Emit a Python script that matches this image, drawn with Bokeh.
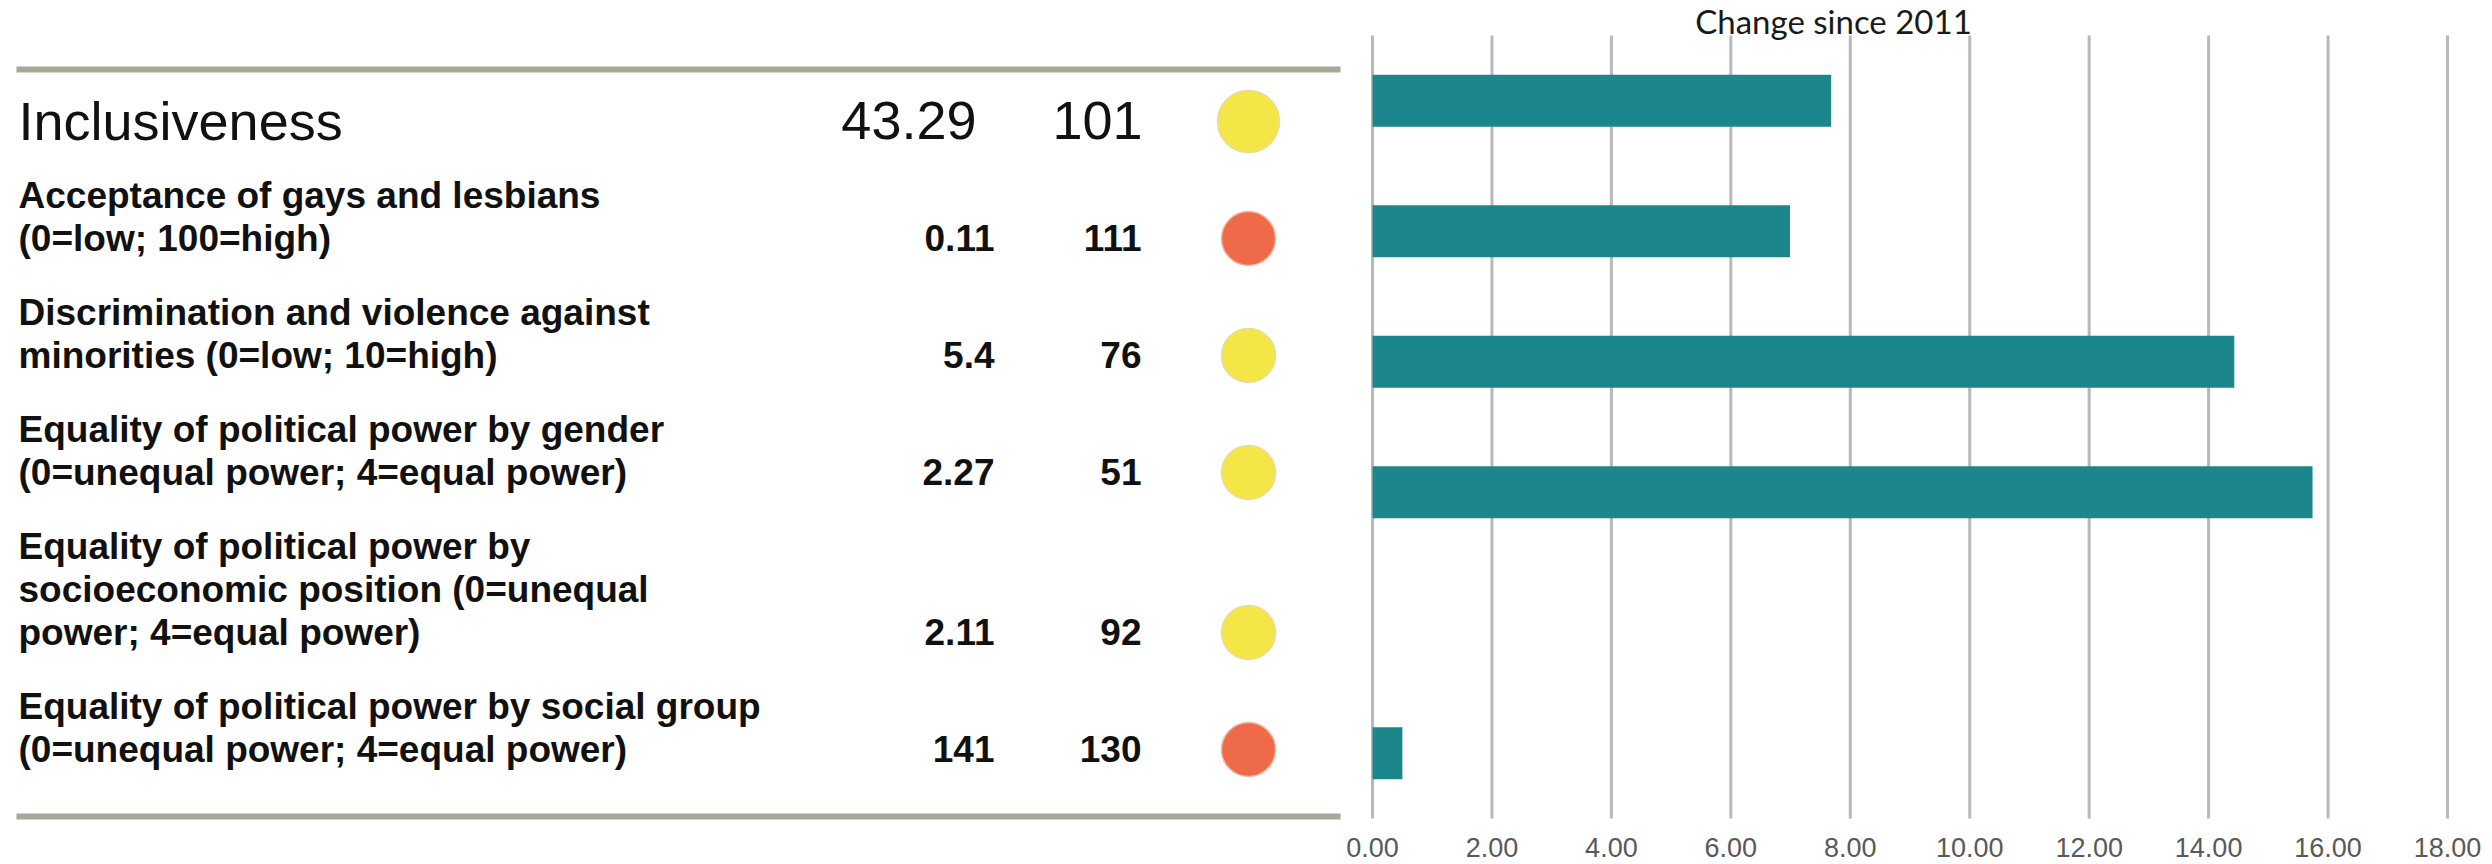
from bokeh.plotting import figure
from bokeh.models import Range1d, LinearAxis, FixedTicker, NumeralTickFormatter, ColumnDataSource
from bokeh.core.properties import value
from bokeh.embed import file_html
from bokeh.resources import INLINE

# ---------------- data ----------------
categories = [
    "Inclusiveness",
    "Acceptance of gays and lesbians (0=low; 100=high)",
    "Discrimination and violence against minorities (0=low; 10=high)",
    "Equality of political power by gender (0=unequal power; 4=equal power)",
    "Equality of political power by socioeconomic position (0=unequal power; 4=equal power)",
    "Equality of political power by social group (0=unequal power; 4=equal power)",
]
label_lines = [
    ["Inclusiveness"],
    ["Acceptance of gays and lesbians", "(0=low; 100=high)"],
    ["Discrimination and violence against", "minorities (0=low; 10=high)"],
    ["Equality of political power by gender", "(0=unequal power; 4=equal power)"],
    ["Equality of political power by", "socioeconomic position (0=unequal", "power; 4=equal power)"],
    ["Equality of political power by social group", "(0=unequal power; 4=equal power)"],
]
scores = ["43.29", "0.11", "5.4", "2.27", "2.11", "141"]
ranks = ["101", "111", "76", "51", "92", "130"]
status = ["yellow", "red", "yellow", "yellow", "yellow", "red"]
change_since_2011 = [7.68, 6.99, 14.43, 15.74, 0.0, 0.50]
x_ticks = [0, 2, 4, 6, 8, 10, 12, 14, 16, 18]
chart_title = "Change since 2011"

# ---------------- layout (page pixels) ----------------
W, H = 2492, 864
LEFT, TOP = 0, 0
RIGHT, BOTTOM = LEFT + W, TOP + H
X0_PX, X18_PX = 1372, 2447          # where 0 and 18 sit
BAND_TOP, BAND_BOT = 35, 818        # category band extent
n = len(categories)
ppu = (X18_PX - X0_PX) / (x_ticks[-1] - x_ticks[0])
ppr = (BAND_BOT - BAND_TOP) / n
SHIFT = 0.31   # em correction so that glyph baselines land where intended

x_range = Range1d(x_ticks[0] - (X0_PX - LEFT) / ppu, x_ticks[-1] + (RIGHT - X18_PX) / ppu)
y_range = Range1d(n - 0.5 + (BOTTOM - BAND_BOT) / ppr, -0.5 - (BAND_TOP - TOP) / ppr)

p = figure(width=W, height=H, output_backend="svg", toolbar_location=None,
           x_axis_type=None, y_axis_type=None,
           x_range=x_range, y_range=y_range,
           min_border=0, outline_line_color=None)
p.extra_x_ranges = {"px": Range1d(LEFT, RIGHT)}
p.extra_y_ranges = {"px": Range1d(BOTTOM, TOP)}
p.xgrid.visible = False
p.ygrid.visible = False

# ---------------- bar chart ----------------
p.segment(x0=x_ticks, y0=-0.5, x1=x_ticks, y1=n - 0.5,
          line_color="#b9b9b9", line_width=3)

bars = ColumnDataSource(dict(y=list(range(n)), right=change_since_2011))
p.hbar(y="y", left=0, right="right", height=0.4, source=bars,
       fill_color="#1b878c", line_color=None)

xaxis = LinearAxis(ticker=FixedTicker(ticks=x_ticks),
                   formatter=NumeralTickFormatter(format="0.00"),
                   fixed_location=n - 0.5,
                   axis_line_color=None, major_tick_line_color=None,
                   minor_tick_line_color=None,
                   major_tick_out=0, major_tick_in=0,
                   major_label_standoff=19,
                   major_label_text_font="Liberation Sans",
                   major_label_text_font_size="27px",
                   major_label_text_line_height=1.0,
                   major_label_text_color="#595959")
p.add_layout(xaxis, "below")

p.text(x=[1833], y=[31 - SHIFT * 33], text=[chart_title], x_range_name="px", y_range_name="px",
       text_align="center", text_baseline="alphabetic", text_line_height=1.0,
       text_font=value("Lato"), text_font_size="33px", text_color="#1a1a1a")

# ---------------- table ----------------
RULE_X0, RULE_X1 = 16, 1340
p.segment(x0=RULE_X0, x1=RULE_X1, y0=[69, 816], y1=[69, 816],
          x_range_name="px", y_range_name="px",
          line_color="#a6a995", line_width=6)

HEAD_BASE, FIRST_BASE, STEP, GAP = 137, 206, 43, 74
HEAD_FS, BODY_FS = 54, 37
row_bases = []
prev_last = None
for i, lines in enumerate(label_lines):
    if i == 0:
        b = [HEAD_BASE]
    else:
        start = FIRST_BASE if prev_last is None else prev_last + GAP
        b = [start + k * STEP for k in range(len(lines))]
        prev_last = b[-1]
    row_bases.append(b)

head_lines = dict(x=[], y=[], t=[])
body_lines = dict(x=[], y=[], t=[])
for i, lines in enumerate(label_lines):
    tgt = head_lines if i == 0 else body_lines
    fs = HEAD_FS if i == 0 else BODY_FS
    for k, line in enumerate(lines):
        tgt["x"].append(18)
        tgt["y"].append(row_bases[i][k] - SHIFT * fs)
        tgt["t"].append(line)

common = dict(x_range_name="px", y_range_name="px", text_baseline="alphabetic",
              text_line_height=1.0, text_font=value("Liberation Sans"), text_color="#111111")

p.text(x="x", y="y", text="t", source=ColumnDataSource(head_lines),
       text_align="left", text_font_size=f"{HEAD_FS}px", **common)
p.text(x="x", y="y", text="t", source=ColumnDataSource(body_lines),
       text_align="left", text_font_style="bold", text_font_size=f"{BODY_FS}px", **common)

last_bases = [b[-1] for b in row_bases]
head_y = last_bases[0] - SHIFT * HEAD_FS
body_y = [b - SHIFT * BODY_FS for b in last_bases[1:]]
p.text(x=[976], y=[head_y], text=[scores[0]], text_align="right",
       text_font_size=f"{HEAD_FS}px", **common)
p.text(x=[1142], y=[head_y], text=[ranks[0]], text_align="right",
       text_font_size=f"{HEAD_FS}px", **common)
p.text(x=[994] * (n - 1), y=body_y, text=scores[1:], text_align="right",
       text_font_style="bold", text_font_size=f"{BODY_FS}px", **common)
p.text(x=[1141] * (n - 1), y=body_y, text=ranks[1:], text_align="right",
       text_font_style="bold", text_font_size=f"{BODY_FS}px", **common)

fill_map = {"yellow": "#f5e648", "red": "#ee6a48"}
edge_map = {"yellow": "#e6dca0", "red": "#f2b8a0"}
dots = ColumnDataSource(dict(
    x=[1248] * n,
    y=[last_bases[0] - 16] + [b - 11 for b in last_bases[1:]],
    size=[62] + [54] * (n - 1),
    fill=[fill_map[s] for s in status],
    edge=[edge_map[s] for s in status],
))
p.scatter(x="x", y="y", size="size", source=dots, marker="circle",
          fill_color="fill", line_color="edge", line_width=1.5,
          x_range_name="px", y_range_name="px")

open("out.html", "w").write(file_html(p, INLINE))
